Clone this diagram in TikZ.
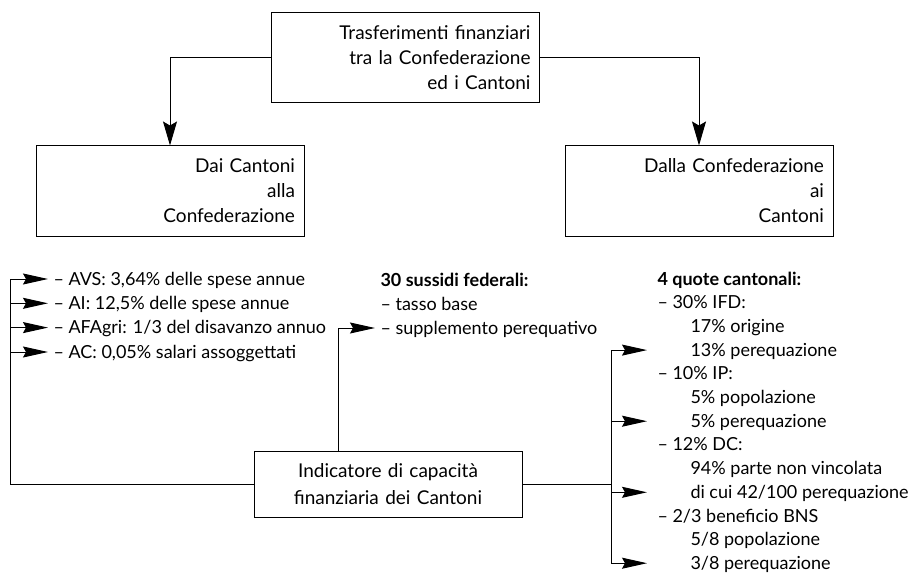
\documentclass[tikz,border=0pt]{standalone}
\usepackage{fontspec}
\setmainfont{Lato}
\usetikzlibrary{positioning,calc,arrows.meta}

\begin{document}
\begin{tikzpicture}
		[   x=1pt,y=-1pt,line width=1pt,
		    bnode/.style={draw=black,fill=white,text width=250pt,inner xsep=9pt,align=right,minimum height=90pt,font=\fontsize{19}{25}\selectfont},
		    lnode/.style={anchor=west,inner sep=0pt,text height=12pt,text depth=0pt,font=\fontsize{18}{24}\selectfont},
		]
		\tikzset{normal arrow/.style={draw,-{Stealth[length=25pt,width=11pt,inset=3pt]},shorten >=#1},
			normal arrow/.default=5pt,
			big arrow/.style={draw,-{Stealth[length=24pt,width=14pt,inset=4pt]}}}
		\useasboundingbox (0,0) rectangle (910,575);
		
		\node[bnode] (tf) at (405.5,58) {Trasferimenti finanziari\\tra la Confederazione\\ed i Cantoni};
		\node[bnode] (dc) at (170,191) {Dai Cantoni\\alla\\Confederazione};
		\node[bnode] (dcf) at (699,191) {Dalla Confederazione\\ai\\Cantoni};
		\node[bnode,align=center,minimum height=66pt,font=\fontsize{19}{27}\selectfont] (ind) at (388,484) {Indicatore di capacità\\finanziaria dei Cantoni};
		
		\path[big arrow] (tf.west) -| (dc.north);
		\path[big arrow] (tf.east) -| (dcf.north);
		
		% verso la Confederazione
		\node[lnode] (avs) at (53,279) {– AVS: 3,64\% delle spese annue};
		\node[lnode] (ai) at (53,303.3) {– AI: 12,5\% delle spese annue};
		\node[lnode] (afagri) at (53,327.6) {– AFAgri: 1/3 del disavanzo annuo};
		\node[lnode] (ac) at (53,352) {– AC: 0,05\% salari assoggettati};
		
		% sussidi
		\node[lnode,font=\bfseries\fontsize{18}{24}\selectfont] (sf) at (380,280) {30 sussidi federali:};
		\node[lnode] (tb) at (380,304) {– tasso base};
		\node[lnode] (sp) at (380,328) {– supplemento perequativo};
		
		% quote cantonali
		\node[lnode,font=\bfseries\fontsize{18}{24}\selectfont] (q0) at (657,279) {4 quote cantonali:};
		\node[lnode] (q1) at (657,302.7) {– 30\% IFD:};
		\node[lnode] (q2) at (657,326.4) {\hspace*{33pt}17\% origine};
		\node[lnode] (q3) at (657,350.1) {\hspace*{33pt}13\% perequazione};
		\node[lnode] (q4) at (657,373.8) {– 10\% IP:};
		\node[lnode] (q5) at (657,397.5) {\hspace*{33pt}5\% popolazione};
		\node[lnode] (q6) at (657,421.2) {\hspace*{33pt}5\% perequazione};
		\node[lnode] (q7) at (657,444.9) {– 12\% DC:};
		\node[lnode] (q8) at (657,468.6) {\hspace*{33pt}94\% parte non vincolata};
		\node[lnode] (q9) at (657,492.3) {\hspace*{33pt}di cui 42/100 perequazione};
		\node[lnode] (q10) at (657,516) {– 2/3 beneficio BNS};
		\node[lnode] (q11) at (657,539.7) {\hspace*{33pt}5/8 popolazione};
		\node[lnode] (q12) at (657,563.2) {\hspace*{33pt}3/8 perequazione};
		
		\coordinate (lb) at (10,484);
		\coordinate (rb) at (611,484);
		
		\draw (ind.west) -- (lb) -- (lb |- avs.west);
		\foreach \n in {avs,ai,afagri,ac}
		{
			\path[normal arrow] (lb |- \n.west) -- (\n.west);
		}
		
		\path[normal arrow] ([xshift=-50pt]ind.north) |- (sp.west);
		
		\draw (ind.east) -- (rb);
		\draw (rb |- q3.west) -- (rb |- q12.west);
		\foreach \i in {3,6,9,12}
		{
			\path[normal arrow=10pt] (rb |- q\i.west) -- (q\i.west);
		}
\end{tikzpicture}
\end{document}
